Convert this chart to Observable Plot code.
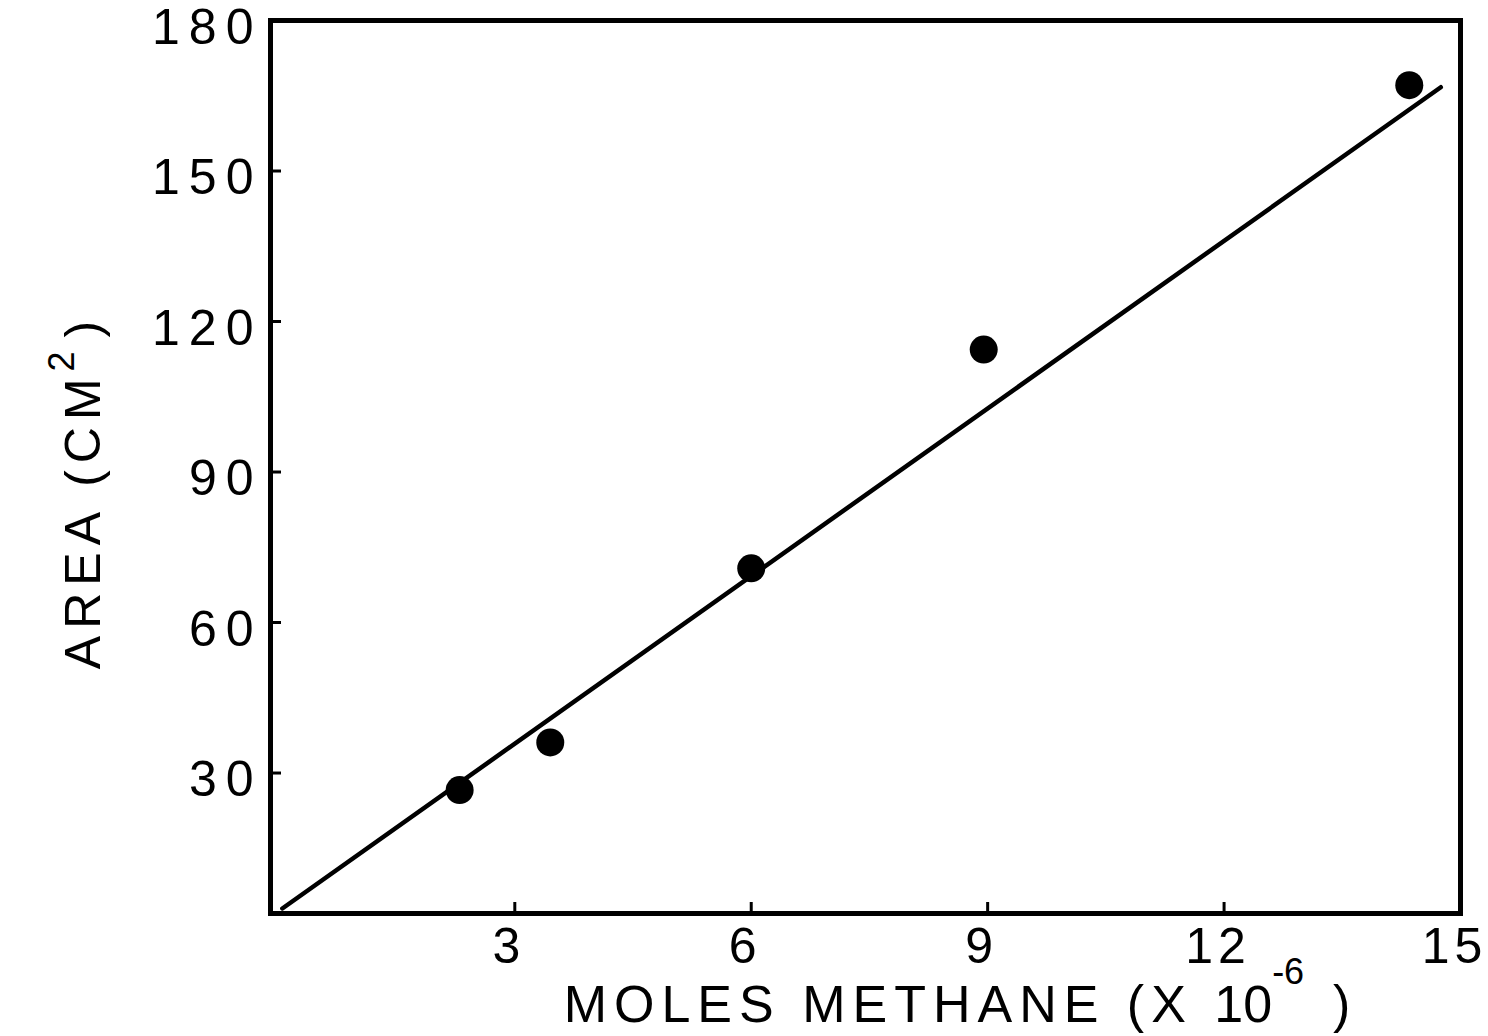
<!DOCTYPE html>
<html><head><meta charset="utf-8">
<script src="https://cdn.jsdelivr.net/npm/d3@7"></script>
<script src="https://cdn.jsdelivr.net/npm/@observablehq/plot@0.6"></script>
<style>
body{margin:0;background:#fff}
#chart svg{display:block}
#chart svg g[aria-label="y-axis tick label"] text{letter-spacing:9px}
#chart svg g[aria-label="x-axis tick label"] text{letter-spacing:5px}
</style>
</head><body><div id="chart"></div>
<script>
// Measured data points
const molesMethane = [2.3, 3.45, 6.0, 8.95, 14.35];
const areaCm2 = [26.6, 36.1, 70.8, 114.4, 167.1];
// Fitted line end points
const fitMoles = [0.05, 14.75];
const fitArea = [3.0, 166.7];
// Tick values
const xTicks = [3, 6, 9, 12, 15];
const yTicks = [30, 60, 90, 120, 150, 180];

const points = molesMethane.map((x, i) => ({x, y: areaCm2[i]}));
const fit = fitMoles.map((x, i) => ({x, y: fitArea[i]}));

const W = 1488, H = 1036, mL = 270, mR = 28, mT = 20, mB = 123;
const plotW = W - mL - mR, plotH = H - mT - mB;
const FONT = "Liberation Sans, Arial, sans-serif";

const chart = Plot.plot({
  width: W, height: H,
  marginLeft: mL, marginRight: mR, marginTop: mT, marginBottom: mB,
  style: {fontFamily: FONT, fontSize: "50px", background: "#fff", color: "#000"},
  x: {domain: [-0.1, 15]},
  y: {domain: [2, 180]},
  marks: [
    Plot.axisX(xTicks, {tickSize: 0, tickPadding: 14, label: null, fontSize: 50, fill: "#000", dx: -6}),
    Plot.axisY(yTicks, {tickSize: 0, tickPadding: 8, label: null, fontSize: 50, fill: "#000", dy: 7}),
    Plot.ruleX(xTicks.filter(t => t < 15), {insetTop: plotH - 11, stroke: "#000", strokeWidth: 3}),
    Plot.ruleY(yTicks.filter(t => t < 180), {insetRight: plotW - 11, stroke: "#000", strokeWidth: 3}),
    Plot.line(fit, {x: "x", y: "y", stroke: "#000", strokeWidth: 4.5, strokeLinecap: "round"}),
    Plot.dot(points, {x: "x", y: "y", r: 14, fill: "#000", stroke: "none"}),
    Plot.frame({stroke: "#000", strokeWidth: 5})
  ]
});

const svg = d3.select(chart);
// X axis title with superscript
const xt = svg.append("text")
  .attr("x", 957).attr("y", 1022)
  .attr("text-anchor", "middle")
  .attr("font-family", FONT)
  .attr("font-size", 52)
  .attr("fill", "#000");
xt.append("tspan").attr("letter-spacing", "7px").text("MOLES METHANE (X ");
xt.append("tspan").attr("letter-spacing", "0px").text("10");
xt.append("tspan").attr("dy", -38).attr("font-size", 36).attr("letter-spacing", "0px").text("-6");
xt.append("tspan").attr("dy", 38).attr("letter-spacing", "0px").text("  )");

// Y axis title with superscript
const yt = svg.append("text")
  .attr("transform", "translate(100,495) rotate(-90)")
  .attr("text-anchor", "middle")
  .attr("font-family", FONT)
  .attr("font-size", 50)
  .attr("fill", "#000");
yt.append("tspan").attr("letter-spacing", "7px").text("AREA (CM");
yt.append("tspan").attr("dy", -26).attr("font-size", 36).text("2");
yt.append("tspan").attr("dy", 26).attr("letter-spacing", "0px").text(" )");

document.getElementById("chart").appendChild(chart);
</script>
</body></html>
